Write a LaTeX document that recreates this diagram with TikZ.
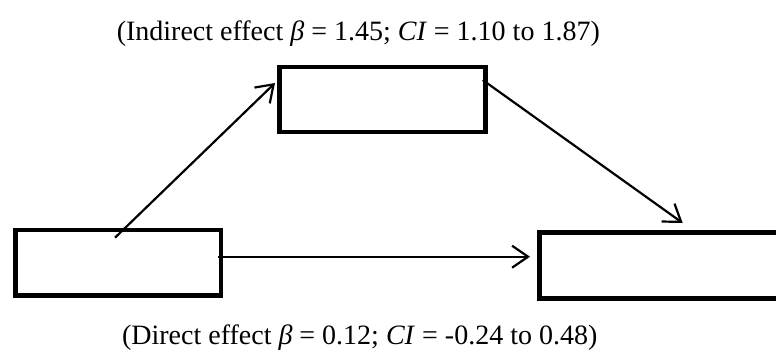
\documentclass[tikz,border=0pt]{standalone}
\usepackage{fontspec}
\setmainfont{Liberation Serif}
\usetikzlibrary{arrows.meta,calc}
\begin{document}
\begin{tikzpicture}[x=1pt,y=1pt,
  varbox/.style={draw=black,line width=4.5pt,rectangle,inner sep=0pt,outer sep=0pt,minimum width=206pt,minimum height=65pt},
  conn/.style={line width=2.2pt,-{Straight Barb[length=16pt,width=22pt,line width=2.2pt]}},
  lbl/.style={font=\fontsize{28}{32}\selectfont,inner sep=0pt,anchor=base}]
\useasboundingbox (0,0) rectangle (776,-351);
\node[varbox] (M) at (382.5,-99.5) {};
\node[varbox,minimum width=205.5pt,minimum height=65.5pt] (X) at (118.25,-262.75) {};
\node[varbox,minimum width=280pt,minimum height=66pt,anchor=west] (Y) at (539.5,-265.5) {};
\node[lbl] (t1) at (358.3,-40) {(Indirect effect \textit{β} = 1.45; \textit{CI} = 1.10 to 1.87)};
\node[lbl] (t2) at (359.7,-344) {(Direct effect \textit{β} = 0.12; \textit{CI} = -0.24 to 0.48)};
\coordinate (a1s) at ($(X.north west)+(99.5,-7.7)$);
\coordinate (a1e) at ($(M.north west)+(-4.5,-16)$);
\coordinate (a2s) at ($(M.north east)+(-2.8,-13)$);
\coordinate (a2e) at ($(Y.north west)+(143.2,9.5)$);
\coordinate (a3s) at ($(X.east)+(-3,6.05)$);
\coordinate (a3e) at ($(Y.west)+(-9.5,8.8)$);
\draw[conn] (a1s) -- (a1e);
\draw[conn] (a2s) -- (a2e);
\draw[conn] (a3s) -- (a3e);
\end{tikzpicture}
\end{document}
